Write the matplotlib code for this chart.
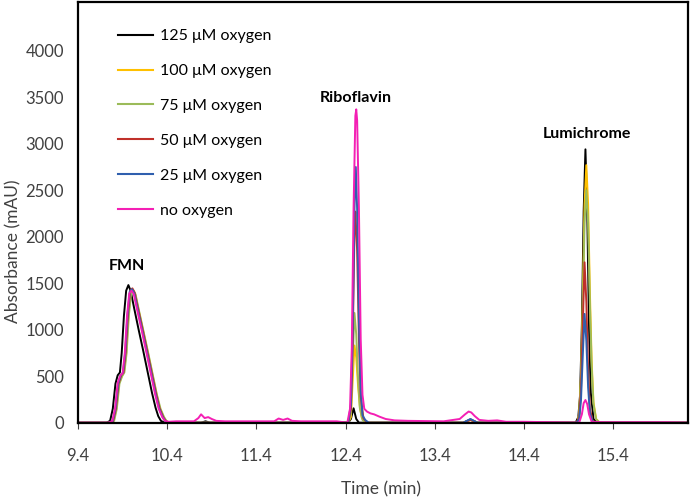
import matplotlib
matplotlib.use("Agg")
import matplotlib.pyplot as plt

plt.rcParams['font.family'] = ['Lato', 'DejaVu Sans']

# ---------------- data ----------------
labels = ["125 μM oxygen", "100 μM oxygen", "75 μM oxygen",
          "50 μM oxygen", "25 μM oxygen", "no oxygen"]
colors = ["#000000", "#FFC000", "#9BBB59", "#C0302A", "#2F5FAE", "#F41FB4"]

t_black = [9.40, 9.72, 9.76, 9.79, 9.82, 9.845, 9.87, 9.89, 9.915, 9.94, 9.965, 9.99,
           10.03, 10.08, 10.13, 10.18, 10.23, 10.27, 10.30, 10.33, 10.37,
           10.78, 10.83, 10.88, 12.43, 12.46, 12.49, 12.52, 12.55,
           13.72, 13.80, 13.88, 14.98, 15.01, 15.03, 15.05, 15.07, 15.09, 15.11,
           15.13, 15.15, 15.18, 15.22, 16.24]
a_black = [0, 0, 20, 150, 420, 510, 540, 750, 1150, 1420, 1480, 1420,
           1230, 1000, 780, 550, 320, 160, 70, 20, 0,
           0, 15, 0, 0, 40, 155, 40, 0,
           0, 35, 0, 0, 60, 300, 1050, 2270, 2940, 2270,
           1050, 320, 40, 0, 0]

t_yellow = [9.40, 9.76, 9.80, 9.83, 9.86, 9.89, 9.915, 9.94, 9.965, 9.99, 10.015, 10.04,
            10.08, 10.13, 10.18, 10.23, 10.28, 10.32, 10.36, 10.39, 10.43,
            12.43, 12.46, 12.48, 12.50, 12.52, 12.54, 12.56, 12.58, 12.61, 12.65,
            13.72, 13.80, 13.88, 15.00, 15.02, 15.04, 15.06, 15.08, 15.10, 15.12,
            15.14, 15.16, 15.18, 15.21, 15.25, 16.24]
a_yellow = [0, 0, 20, 150, 420, 500, 540, 750, 1150, 1400, 1430, 1390,
            1210, 990, 770, 540, 310, 150, 60, 15, 0,
            0, 60, 450, 830, 700, 400, 180, 60, 10, 0,
            0, 30, 0, 0, 100, 500, 1300, 2350, 2770, 2350,
            1400, 650, 220, 40, 0, 0]

t_green = [9.40, 9.765, 9.805, 9.835, 9.865, 9.895, 9.92, 9.945, 9.97, 9.995, 10.02, 10.045,
           10.085, 10.135, 10.185, 10.235, 10.285, 10.325, 10.365, 10.395, 10.435,
           12.43, 12.46, 12.48, 12.50, 12.52, 12.54, 12.56, 12.59, 12.63,
           13.72, 13.80, 13.88, 15.00, 15.02, 15.04, 15.06, 15.08, 15.10, 15.12,
           15.14, 15.16, 15.18, 15.21, 15.25, 16.24]
a_green = [0, 0, 20, 150, 420, 500, 540, 750, 1150, 1390, 1420, 1380,
           1200, 980, 760, 530, 300, 150, 60, 15, 0,
           0, 100, 700, 1180, 950, 480, 160, 30, 0,
           0, 30, 0, 0, 90, 450, 1200, 2150, 2500, 2150,
           1280, 600, 200, 35, 0, 0]

t_red = [9.40, 9.755, 9.795, 9.825, 9.855, 9.885, 9.91, 9.935, 9.96, 9.985, 10.01, 10.035,
         10.075, 10.125, 10.175, 10.225, 10.275, 10.315, 10.355, 10.385, 10.425,
         12.43, 12.46, 12.48, 12.50, 12.51, 12.53, 12.55, 12.57, 12.60, 12.64,
         13.72, 13.80, 13.88, 14.99, 15.02, 15.04, 15.06, 15.08, 15.10, 15.12,
         15.14, 15.17, 15.21, 16.24]
a_red = [0, 0, 20, 150, 420, 510, 540, 760, 1160, 1420, 1445, 1400,
         1220, 1000, 775, 545, 315, 155, 60, 15, 0,
         0, 150, 850, 2050, 2270, 1850, 900, 280, 50, 0,
         0, 30, 0, 0, 60, 350, 1050, 1725, 1300, 560,
         150, 20, 0, 0]

t_blue = [9.40, 9.75, 9.79, 9.82, 9.85, 9.88, 9.905, 9.93, 9.955, 9.98, 10.005, 10.03,
          10.07, 10.12, 10.17, 10.22, 10.27, 10.31, 10.35, 10.38, 10.42,
          12.43, 12.46, 12.48, 12.50, 12.515, 12.53, 12.55, 12.57, 12.59, 12.62, 12.66,
          13.72, 13.80, 13.88, 14.99, 15.02, 15.04, 15.06, 15.08, 15.10, 15.12,
          15.14, 15.17, 15.21, 16.24]
a_blue = [0, 0, 20, 150, 420, 510, 540, 760, 1160, 1410, 1435, 1395,
          1215, 995, 770, 540, 310, 150, 60, 15, 0,
          0, 200, 1000, 2300, 2750, 2300, 1100, 350, 80, 30, 0,
          0, 40, 0, 0, 40, 240, 720, 1170, 880, 380,
          100, 15, 0, 0]

t_pink = [9.40, 9.745, 9.785, 9.815, 9.845, 9.875, 9.90, 9.925, 9.95, 9.975, 10.00, 10.025,
          10.065, 10.115, 10.165, 10.215, 10.265, 10.305, 10.345, 10.375, 10.415,
          10.50, 10.70, 10.75, 10.78, 10.82, 10.86, 10.90, 10.95, 11.05, 11.50,
          11.60, 11.65, 11.70, 11.75, 11.80, 11.90, 12.30, 12.42, 12.45, 12.47,
          12.49, 12.51, 12.52, 12.53, 12.55, 12.57, 12.59, 12.61, 12.64, 12.68,
          12.72, 12.78, 12.85, 12.95, 13.10, 13.50, 13.68, 13.74, 13.78, 13.81,
          13.85, 13.90, 14.00, 14.10, 14.20, 14.40, 15.02, 15.05, 15.07, 15.09,
          15.11, 15.13, 15.16, 15.30, 16.00, 16.24]
a_pink = [0, 0, 20, 150, 430, 510, 530, 750, 1150, 1390, 1420, 1385,
          1205, 990, 765, 535, 305, 150, 60, 20, 10,
          15, 15, 50, 90, 50, 60, 40, 20, 15, 15,
          15, 45, 30, 45, 20, 15, 15, 0, 150, 800,
          2300, 3300, 3370, 3250, 2300, 900, 300, 150, 120, 100,
          90, 65, 40, 25, 20, 15, 40, 90, 120, 110,
          70, 30, 20, 25, 10, 10, 0, 90, 210, 244,
          200, 90, 10, 5, 5, 0]

series_t = [t_black, t_yellow, t_green, t_red, t_blue, t_pink]
series_a = [a_black, a_yellow, a_green, a_red, a_blue, a_pink]

xticks = [9.4, 10.4, 11.4, 12.4, 13.4, 14.4, 15.4]
yticks = [0, 500, 1000, 1500, 2000, 2500, 3000, 3500, 4000]

peak_names = ["FMN", "Riboflavin", "Lumichrome"]
peak_label_pos = [(9.95, 1680), (12.51, 3490), (15.11, 3100)]

# ---------------- figure ----------------
W, H = 693, 500
fig = plt.figure(figsize=(W / 100, H / 100), dpi=100)
ax = fig.add_axes([78 / W, (H - 422.7) / H, (688 - 78) / W, (422.7 - 1.5) / H])

for t, a, c, lab in zip(series_t, series_a, colors, labels):
    ax.plot(t, a, color=c, lw=1.4, label=lab, solid_joinstyle='round')

ax.set_xlim(9.4, 16.24)
ax.set_ylim(0, 4530)
ax.set_xticks(xticks)
ax.set_xticklabels([f"{v:.1f}" for v in xticks])
ax.set_yticks(yticks)
ax.tick_params(axis='x', direction='out', length=4, width=0.8, labelsize=12, pad=14,
               colors='#404040', labelcolor='#404040')
ax.tick_params(axis='y', length=0, labelsize=12, pad=10, labelcolor='#404040')

for sp in ax.spines.values():
    sp.set_linewidth(1.6)
    sp.set_color('black')

ax.set_xlabel("Time (min)", fontsize=12.5, color='#404040')
ax.set_ylabel("Absorbance (mAU)", fontsize=12.5, color='#404040')
ax.xaxis.set_label_coords((381 - 78) / 610, (422.7 - 481) / 421.2)
ax.yaxis.set_label_coords((21 - 78) / 610, (422.7 - 251) / 421.2)

for name, (x, y) in zip(peak_names, peak_label_pos):
    ax.text(x, y, name, fontsize=11.5, fontweight='bold', ha='center', va='center')

leg = ax.legend(loc='upper left', bbox_to_anchor=((118 - 78) / 610, (422.7 - 29) / 421.2),
                frameon=False, fontsize=11.5, handlelength=2.2, handletextpad=0.45,
                labelspacing=1.3, borderpad=0, borderaxespad=0)
for line in leg.get_lines():
    line.set_linewidth(1.5)

fig.savefig("out.png", dpi=100)
